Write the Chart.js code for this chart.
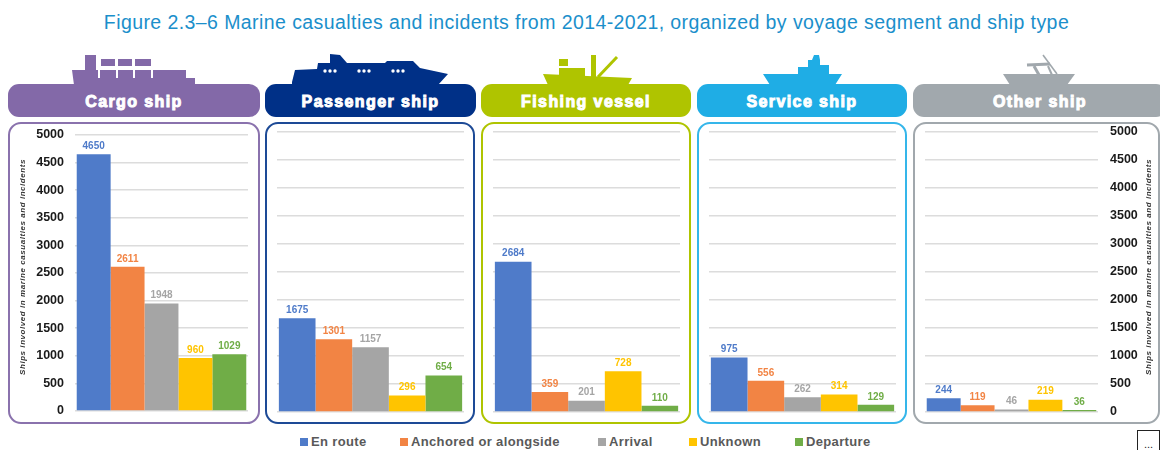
<!DOCTYPE html>
<html>
<head>
<meta charset="utf-8">
<title>Marine casualties and incidents</title>
<script src="https://cdn.jsdelivr.net/npm/chart.js@4"></script>
<style>
    html, body { margin: 0; padding: 0; background: #fff; }
    body { position: relative; width: 1160px; height: 450px; overflow: hidden; font-family: "Liberation Sans", Arial, sans-serif; }
    #heading { position: absolute; left: 0; width: 1173px; top: 11px; text-align: center; font-size: 19.5px; line-height: 22px; letter-spacing: 0.42px; color: #1b8fcb; white-space: nowrap; }
    .tab { position: absolute; top: 84px; height: 33px; border-radius: 11px; color: #fff; text-align: center; font-weight: bold; font-size: 16px; line-height: 35px; letter-spacing: 1.4px; -webkit-text-stroke: 1px #fff; }
    .frame { position: absolute; top: 122px; height: 298px; border: 2px solid; border-radius: 13px; box-sizing: content-box; }
    canvas { position: absolute; }
    svg { position: absolute; left: 0; top: 0; }
    .key { position: absolute; top: 434px; font-size: 13px; font-weight: bold; line-height: 15px; color: #595959; letter-spacing: 0.35px; white-space: nowrap; }
    .key i { display: inline-block; width: 8px; height: 8px; margin-right: 3px; }
    #more { position: absolute; left: 1137px; top: 430px; width: 23px; height: 24px; border: 1px solid #222; box-sizing: border-box; font-size: 11px; line-height: 26px; text-align: center; color: #222; }
</style>
</head>
<body>
<div id="heading">Figure 2.3–6 Marine casualties and incidents from 2014-2021, organized by voyage segment and ship type</div>

<svg width="1160" height="90">
    <!-- cargo ship -->
    <g fill="#8369a8">
        <polygon points="72,70 85,70 85,55 96,55 96,70 186,70 186,78 195,78 195,85 74,85"/>
        <rect x="101" y="59" width="14" height="8"/><rect x="118" y="59" width="14" height="8"/><rect x="135" y="59" width="16" height="8"/>
    </g>
    <g fill="#fff">
        <rect x="97" y="66" width="55" height="2"/>
        <rect x="98" y="66" width="2" height="12"/><rect x="116" y="66" width="2" height="12"/><rect x="133" y="66" width="2" height="12"/><rect x="151" y="66" width="2" height="12"/>
    </g>
    <!-- passenger ship -->
    <polygon fill="#003087" points="292,82 295,70 317,69 318,63 330,63 330,54 340,55 347,63 385,63 387,61 413,61 420,68 448,74 438,85 292,85"/>
    <g fill="#fff">
        <circle cx="325" cy="71" r="1.7"/><circle cx="330" cy="71" r="1.7"/><circle cx="335" cy="71" r="1.7"/>
        <circle cx="359" cy="71" r="1.7"/><circle cx="364" cy="71" r="1.7"/><circle cx="369" cy="71" r="1.7"/>
        <circle cx="393" cy="71" r="1.7"/><circle cx="398" cy="71" r="1.7"/><circle cx="403" cy="71" r="1.7"/>
    </g>
    <!-- fishing vessel -->
    <g fill="#afc400">
        <polygon points="543,74 632,78 628,85 548,85"/>
        <rect x="559" y="59" width="9" height="7"/><rect x="559" y="68" width="26" height="8"/><rect x="591" y="55" width="5" height="23"/>
    </g>
    <line x1="598" y1="77" x2="617" y2="57" stroke="#afc400" stroke-width="3"/>
    <!-- service ship -->
    <polygon fill="#1fade5" points="763,74 798,74 798,67 808,67 808,60 812,60 814,55 819,55 820,60 820,65 829,65 829,74 842,74 835,85 770,85"/>
    <!-- other ship -->
    <polygon fill="#a1a8ad" points="1003,74 1075,74 1067,85 1010,85"/>
    <g stroke="#a1a8ad" fill="none">
        <line x1="1027" y1="65" x2="1050" y2="64" stroke-width="3"/>
        <line x1="1043" y1="55" x2="1057" y2="74" stroke-width="1.6"/>
        <line x1="1034" y1="66" x2="1039" y2="75" stroke-width="3"/>
        <line x1="1048" y1="66" x2="1052" y2="75" stroke-width="2"/>
    </g>
</svg>

<div id="more">...</div>

<script>
// ship types, one panel each
const shipTypes = ['Cargo ship', 'Passenger ship', 'Fishing vessel', 'Service ship', 'Other ship'];

// ships per voyage segment, same order as shipTypes
const enRoute = [4650, 1675, 2684, 975, 244];
const anchored = [2611, 1301, 359, 556, 119];
const arrival = [1948, 1157, 201, 262, 46];
const unknown = [960, 296, 728, 314, 219];
const departure = [1029, 654, 110, 129, 36];

const segmentNames = ['En route', 'Anchored or alongside', 'Arrival', 'Unknown', 'Departure'];
const segmentColors = ['#4f7bc9', '#f28444', '#a5a5a5', '#ffc400', '#70ad47'];
const segmentValues = [enRoute, anchored, arrival, unknown, departure];

const yTicks = [0, 500, 1000, 1500, 2000, 2500, 3000, 3500, 4000, 4500, 5000];
const axisCaption = 'Ships involved in marine casualties and incidents';

// panel placement on the page
const panels = [
    { left: 8, width: 252, tabW: 252, color: '#8369a8', border: '#8a72ad', plot: [75, 135, 248, 411], axis: 'left', captionX: 23 },
    { left: 265, width: 210, tabW: 211, color: '#003087', border: '#1d4a96', plot: [277, 132, 464, 412] },
    { left: 481, width: 210, tabW: 210, color: '#afc400', border: '#afc400', plot: [493, 132, 680, 412] },
    { left: 697, width: 210, tabW: 210, color: '#1fade5', border: '#35b6ea', plot: [709, 132, 896, 412] },
    { left: 913, width: 247, tabW: 254, color: '#a1a8ad', border: '#a1a8ad', plot: [925, 132, 1098, 412], axis: 'right', captionX: 1149 },
];

const legendSpots = [300, 400, 598, 689, 795];

// value above each bar, in the bar's colour
const barValues = {
    id: 'barValues',
    afterDatasetsDraw(chart) {
        const ctx = chart.ctx;
        ctx.save();
        ctx.font = 'bold 10px "Liberation Sans"';
        ctx.textAlign = 'center';
        ctx.textBaseline = 'bottom';
        chart.data.datasets.forEach((ds, i) => {
            const bar = chart.getDatasetMeta(i).data[0];
            ctx.fillStyle = ds.backgroundColor;
            ctx.fillText(ds.data[0], bar.x, bar.y - 3);
        });
        ctx.restore();
    },
};

// rotated axis caption, reads bottom to top on both outer panels
const sideCaption = {
    id: 'sideCaption',
    afterDraw(chart, args, opts) {
        if (opts.x == null) return;
        const ctx = chart.ctx;
        ctx.save();
        ctx.translate(opts.x, opts.y);
        ctx.rotate(-Math.PI / 2);
        ctx.font = 'italic bold 8px "Liberation Sans"';
        ctx.letterSpacing = '0.55px';
        ctx.fillStyle = '#333';
        ctx.textAlign = 'center';
        ctx.textBaseline = 'middle';
        ctx.fillText(axisCaption, 0, 0);
        ctx.restore();
    },
};

panels.forEach((p, i) => {
    const tab = document.createElement('div');
    tab.className = 'tab';
    tab.textContent = shipTypes[i];
    tab.style.left = p.left + 'px';
    tab.style.width = p.tabW + 'px';
    tab.style.background = p.color;
    document.body.appendChild(tab);

    const frame = document.createElement('div');
    frame.className = 'frame';
    frame.style.left = p.left + 'px';
    frame.style.width = (p.width - 4) + 'px';
    frame.style.borderColor = p.border;
    document.body.appendChild(frame);

    // canvas spans the whole frame, the plot area is set with padding
    const top = 122, height = 302;
    const canvas = document.createElement('canvas');
    canvas.width = p.width;
    canvas.height = height;
    canvas.style.left = p.left + 'px';
    canvas.style.top = top + 'px';
    document.body.appendChild(canvas);

    const [x0, y0, x1, y1] = p.plot;
    const leftGap = x0 - p.left;
    const rightGap = p.left + p.width - x1;

    new Chart(canvas, {
        type: 'bar',
        data: {
            labels: [shipTypes[i]],
            datasets: segmentNames.map((name, s) => ({
                label: name,
                data: [segmentValues[s][i]],
                backgroundColor: segmentColors[s],
            })),
        },
        options: {
            responsive: false,
            animation: false,
            barPercentage: 1,
            categoryPercentage: 0.98,
            layout: {
                padding: {
                    left: p.axis === 'left' ? 0 : leftGap,
                    right: p.axis === 'right' ? 0 : rightGap,
                    top: y0 - top,
                    bottom: top + height - y1,
                },
            },
            scales: {
                x: { display: false },
                y: {
                    position: p.axis || 'left',
                    min: 0,
                    max: 5000,
                    afterBuildTicks(axis) {
                        axis.ticks = yTicks.map(v => ({ value: v }));
                    },
                    afterFit(axis) {
                        if (p.axis === 'left') axis.width = leftGap;
                        else if (p.axis === 'right') axis.width = rightGap;
                        else axis.width = 0;
                        // keep half-label overhang from shrinking the plot
                        axis.paddingTop = 0;
                        axis.paddingBottom = 0;
                    },
                    border: { display: false },
                    grid: { color: '#dcdcdc', lineWidth: 1.5, drawTicks: false },
                    ticks: {
                        display: !!p.axis,
                        padding: p.axis === 'right' ? 12 : 11,
                        color: '#1a1a1a',
                        font: { family: '"Liberation Sans"', size: 12.5, weight: 'bold' },
                        callback: v => String(v),
                    },
                },
            },
            plugins: {
                legend: { display: false },
                tooltip: { enabled: false },
                sideCaption: { x: p.captionX != null ? p.captionX - p.left : null, y: 267 - top },
            },
        },
        plugins: [barValues, sideCaption],
    });
});

// shared legend under the panels
segmentNames.forEach((name, s) => {
    const key = document.createElement('div');
    key.className = 'key';
    key.style.left = legendSpots[s] + 'px';
    key.innerHTML = '<i style="background:' + segmentColors[s] + '"></i>' + name;
    document.body.appendChild(key);
});
</script>
</body>
</html>
